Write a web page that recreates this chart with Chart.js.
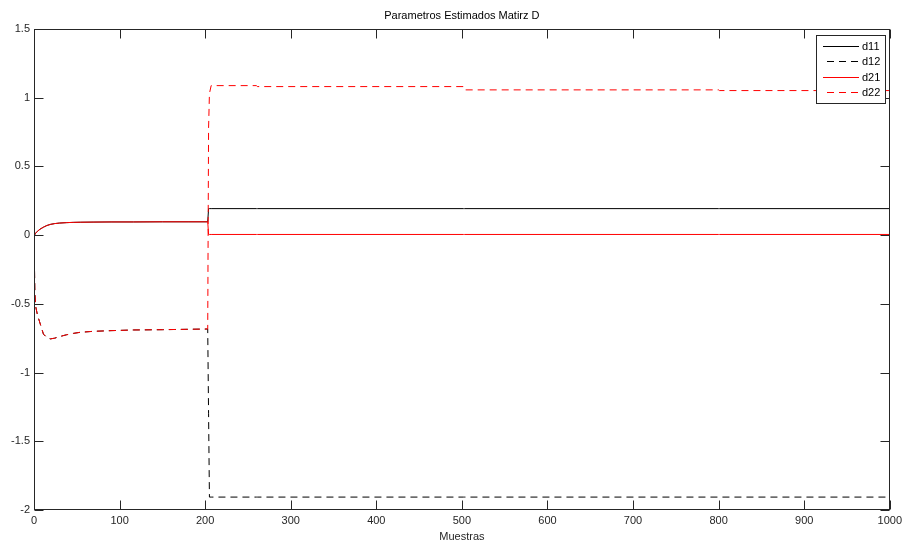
<!DOCTYPE html>
<html>
<head>
<meta charset="utf-8">
<script src="https://cdn.jsdelivr.net/npm/chart.js@4.4.1/dist/chart.umd.min.js"></script>
<style>
  body { margin: 0; background: #fff; }
  #wrap { width: 906px; height: 545px; }
</style>
</head>
<body>
<div id="wrap"><canvas id="myChart"></canvas></div>
<script>
// muestras
var muestras = [0, 1, 2, 4, 7, 11, 15, 19, 24, 30, 38, 46, 54, 69, 90, 116, 150, 180, 203, 204, 205, 207, 260, 261, 502, 503, 800, 801, 1000];

var d11 = [0, 0.008, 0.015, 0.028, 0.043, 0.058, 0.07, 0.078, 0.084, 0.088, 0.091, 0.093, 0.094, 0.095, 0.096, 0.096, 0.097, 0.097, 0.097, 0.193, 0.193, 0.193, 0.193, 0.193, 0.193, 0.193, 0.193, 0.193, 0.193];
var d12 = [0, -0.42, -0.52, -0.58, -0.64, -0.72, -0.745, -0.755, -0.75, -0.738, -0.725, -0.715, -0.707, -0.70, -0.695, -0.69, -0.688, -0.685, -0.683, -1.3, -1.906, -1.906, -1.906, -1.906, -1.906, -1.906, -1.906, -1.906, -1.906];
var d21 = [0, 0.008, 0.015, 0.028, 0.043, 0.058, 0.07, 0.078, 0.084, 0.088, 0.091, 0.093, 0.094, 0.095, 0.096, 0.096, 0.097, 0.097, 0.097, 0.005, 0.005, 0.005, 0.005, 0.005, 0.005, 0.005, 0.005, 0.005, 0.005];
var d22 = [0, -0.42, -0.52, -0.58, -0.64, -0.72, -0.745, -0.755, -0.75, -0.738, -0.725, -0.715, -0.707, -0.70, -0.695, -0.69, -0.688, -0.685, -0.683, 0.78, 1.03, 1.088, 1.088, 1.081, 1.081, 1.057, 1.057, 1.052, 1.052];

var xTicks = [0, 100, 200, 300, 400, 500, 600, 700, 800, 900, 1000];
var xTickLabels = ['0', '100', '200', '300', '400', '500', '600', '700', '800', '900', '1000'];
var yTicks = [-2, -1.5, -1, -0.5, 0, 0.5, 1, 1.5];
var yTickLabels = ['-2', '-1.5', '-1', '-0.5', '0', '0.5', '1', '1.5'];

function pts(ys) {
  return muestras.map(function(x, i) { return {x: x, y: ys[i]}; });
}

Chart.defaults.font.family = '"Liberation Sans", Arial, sans-serif';
Chart.defaults.font.size = 11;
Chart.defaults.color = '#262626';

// marco, marcas hacia adentro y leyenda estilo matlab
var marcoPlugin = {
  id: 'marco',
  afterDraw: function(chart) {
    var ctx = chart.ctx;
    var a = chart.chartArea;
    var sx = chart.scales.x, sy = chart.scales.y;
    var L = Math.round(a.left) + 0.5, R = Math.round(a.right) - 0.5;
    var T = Math.round(a.top) + 0.5, B = Math.round(a.bottom) - 0.5;
    var tl = 9;
    ctx.save();
    ctx.strokeStyle = '#262626';
    ctx.lineWidth = 1;
    ctx.setLineDash([]);
    ctx.beginPath();
    xTicks.forEach(function(v) {
      var px = Math.round(sx.getPixelForValue(v)) + 0.5;
      ctx.moveTo(px, B); ctx.lineTo(px, B - tl);
      ctx.moveTo(px, T); ctx.lineTo(px, T + tl);
    });
    yTicks.forEach(function(v) {
      var py = Math.round(sy.getPixelForValue(v)) + 0.5;
      ctx.moveTo(L, py); ctx.lineTo(L + tl, py);
      ctx.moveTo(R, py); ctx.lineTo(R - tl, py);
    });
    ctx.stroke();
    ctx.strokeRect(L, T, R - L, B - T);

    // leyenda
    var bx = 816.5, by = 35.5, bw = 69, bh = 68;
    ctx.fillStyle = '#fff';
    ctx.fillRect(bx, by, bw, bh);
    ctx.strokeStyle = '#262626';
    ctx.strokeRect(bx, by, bw, bh);
    ctx.font = '11px "Liberation Sans", Arial, sans-serif';
    ctx.textBaseline = 'middle';
    ctx.textAlign = 'left';
    chart.data.datasets.forEach(function(ds, i) {
      var y = Math.round(by + 10 + i * 15.6) + 0.5;
      ctx.beginPath();
      ctx.strokeStyle = ds.borderColor;
      ctx.lineWidth = 1;
      ctx.setLineDash(ds.borderDash || []);
      var x0 = ds.borderDash ? 827 : 823;
      ctx.moveTo(x0, y); ctx.lineTo(859, y);
      ctx.stroke();
      ctx.setLineDash([]);
      ctx.fillStyle = '#000';
      ctx.fillText(ds.label, 862, y);
    });
    ctx.restore();
  }
};

var ctx = document.getElementById('myChart').getContext('2d');
var myChart = new Chart(ctx, {
  type: 'line',
  data: {
    datasets: [
      { label: 'd11', data: pts(d11), borderColor: '#000000', order: 4 },
      { label: 'd12', data: pts(d12), borderColor: '#000000', borderDash: [7, 5], order: 3 },
      { label: 'd21', data: pts(d21), borderColor: '#ff0000', order: 2 },
      { label: 'd22', data: pts(d22), borderColor: '#ff0000', borderDash: [7, 5], order: 1 }
    ]
  },
  options: {
    responsive: true,
    maintainAspectRatio: false,
    animation: false,
    layout: { padding: { left: 0, right: 16, top: 0, bottom: 0 } },
    elements: {
      line: { borderWidth: 1, tension: 0, fill: false },
      point: { radius: 0, hoverRadius: 0 }
    },
    plugins: {
      legend: { display: false },
      tooltip: { enabled: false },
      title: {
        display: true,
        text: 'Parametros Estimados Matirz D',
        color: '#000',
        fullSize: false,
        font: { size: 11, weight: 'normal' },
        padding: { top: 9, bottom: 6.8 }
      }
    },
    scales: {
      x: {
        type: 'linear',
        min: 0,
        max: 1000,
        afterBuildTicks: function(s) { s.ticks = xTicks.map(function(v) { return {value: v}; }); },
        afterFit: function(s) { s.height = 35; },
        grid: { display: false, drawTicks: false },
        border: { display: false },
        ticks: {
          padding: 4,
          maxRotation: 0,
          autoSkip: false,
          callback: function(v, i) { return xTickLabels[i]; }
        },
        title: {
          display: true,
          text: 'Muestras',
          color: '#262626',
          font: { size: 11 },
          padding: { top: 0, bottom: 1 }
        }
      },
      y: {
        type: 'linear',
        min: -2,
        max: 1.5,
        afterBuildTicks: function(s) { s.ticks = yTicks.map(function(v) { return {value: v}; }); },
        afterFit: function(s) { s.width = 34; },
        grid: { display: false, drawTicks: false },
        border: { display: false },
        ticks: {
          padding: 4,
          autoSkip: false,
          callback: function(v, i) { return yTickLabels[i]; }
        }
      }
    }
  },
  plugins: [marcoPlugin]
});
</script>
</body>
</html>
